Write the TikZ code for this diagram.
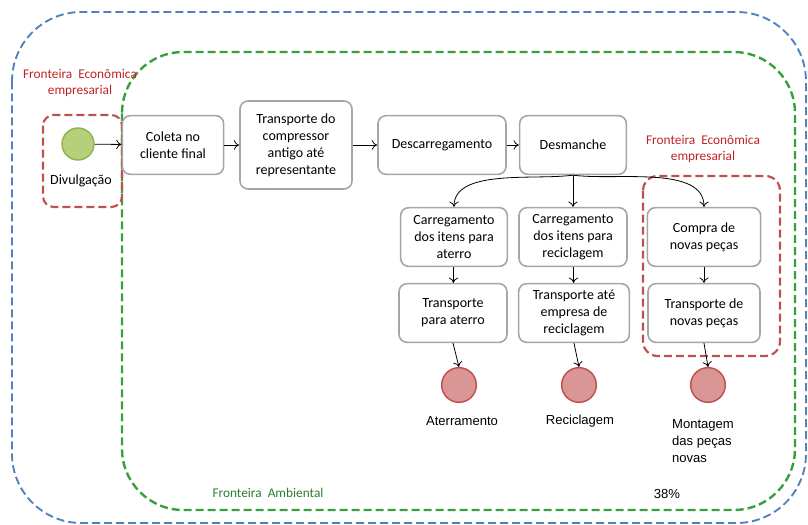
\documentclass[tikz,border=0pt]{standalone}
\usepackage{fontspec}
\setmainfont{Carlito}
\newfontfamily\arialfont{Liberation Sans}
\usepackage{xcolor}
\usepackage{tikz}
\usetikzlibrary{arrows.meta}

\definecolor{azulfr}{RGB}{79,129,189}
\definecolor{verdefr}{RGB}{55,160,60}
\definecolor{vermfr}{RGB}{192,80,77}
\definecolor{vermtx}{RGB}{190,35,35}
\definecolor{verdetx}{RGB}{45,125,45}
\definecolor{verdeini}{RGB}{181,207,122}
\definecolor{verdeinib}{RGB}{145,180,80}
\definecolor{vermfim}{RGB}{217,150,148}
\definecolor{vermfimb}{RGB}{192,80,77}

\begin{document}
\begin{tikzpicture}[x=0.75pt, y=-0.75pt, >={To[length=4pt, width=7pt]},
        caixa/.style={rectangle, rounded corners=6pt, draw=gray!70, line width=1.2pt,
            fill=white, align=center, minimum height=44pt, inner sep=2pt,
            font=\fontsize{10.5}{12.8}\selectfont},
        inicio/.style={circle, draw=verdeinib, line width=1.1pt, fill=verdeini,
            minimum size=24pt, inner sep=0pt},
        fim/.style={circle, draw=vermfimb, line width=1.1pt, fill=vermfim,
            minimum size=26pt, inner sep=0pt},
        rotulo/.style={font=\arialfont\fontsize{9.8}{12.5}\selectfont},
        fronteira/.style={dashed, dash pattern=on 6pt off 3pt},
        seta/.style={->, line width=0.6pt}]
        \useasboundingbox (0,0) rectangle (808,525);

        % fronteiras
        \draw[fronteira, azulfr, line width=1.4pt, rounded corners=52pt]
            (12,12) rectangle (806,523);
        \draw[fronteira, verdefr, line width=1.8pt, rounded corners=46pt]
            (122,52) rectangle (795,510);
        \draw[fronteira, vermfr, line width=1.6pt, rounded corners=8pt]
            (43,115) rectangle (122,207);
        \draw[fronteira, vermfr, line width=1.6pt, rounded corners=11pt]
            (643,176) rectangle (780,356);

        \node[text=vermtx, align=center, font=\fontsize{10}{12}\selectfont] (fe1) at (80,83)
            {Fronteira\ \ Econômica\\ empresarial};
        \node[text=vermtx, align=center, font=\fontsize{10}{12}\selectfont] (fe2) at (703,149)
            {Fronteira\ \ Econômica\\ empresarial};
        \node[text=verdetx, font=\fontsize{10}{12}\selectfont] (fa) at (268,493)
            {Fronteira\ \ Ambiental};

        % fluxo principal
        \node[inicio] (div) at (78,144) {};
        \node[font=\fontsize{10.5}{12}\selectfont] (divt) at (81,181) {Divulgação};
        \node[caixa, minimum width=76pt] (col) at (173,145) {Coleta no\\ cliente final};
        \node[caixa, minimum width=84pt, minimum height=66pt] (tra) at (296,145)
            {Transporte do\\ compressor\\ antigo até\\ representante};
        \node[caixa, minimum width=96pt] (des) at (442,145) {Descarregamento};
        \node[caixa, minimum width=80pt] (dsm) at (573,145) {Desmanche};

        % segunda linha
        \node[caixa, minimum width=80pt] (cat) at (454,237)
            {Carregamento\\ dos itens para\\ aterro};
        \node[caixa, minimum width=81pt] (car) at (573,237)
            {Carregamento\\ dos itens para\\ reciclagem};
        \node[caixa, minimum width=85pt] (cmp) at (704,237) {Compra de\\ novas peças};

        % terceira linha
        \node[caixa, minimum width=81pt] (tat) at (453,313) {Transporte\\ para aterro};
        \node[caixa, minimum width=83pt] (tre) at (574,313)
            {Transporte até\\ empresa de\\ reciclagem};
        \node[caixa, minimum width=84pt] (tnp) at (704,313) {Transporte de\\ novas peças};

        % finais
        \node[fim] (ate) at (459,385) {};
        \node[fim] (rec) at (579,385) {};
        \node[fim] (mon) at (708,385) {};
        \node[rotulo] (atet) at (462,421) {Aterramento};
        \node[rotulo] (rect) at (580,421) {Reciclagem};
        \node[rotulo, align=left] (mont) at (703,441) {Montagem\\ das peças\\ novas};
        \node[rotulo] (pct) at (667,494) {38\%};

        \draw[seta] (div) -- (col);
        \draw[seta] (col) -- (tra);
        \draw[seta] (tra) -- (des);
        \draw[seta] (des) -- (dsm);
        \draw[seta] (dsm.south) to[out=188, in=90, looseness=0.8] (cat.north);
        \draw[seta] (dsm.south) -- (car.north);
        \draw[seta] (dsm.south) to[out=-8, in=90, looseness=0.8] (cmp.north);
        \draw[seta] (cat) -- (tat);
        \draw[seta] (car) -- (tre);
        \draw[seta] (cmp) -- (tnp);
        \draw[seta] (tat.south) -- (ate.north);
        \draw[seta] (tre.south) -- (rec.north);
        \draw[seta] (tnp.south) -- (mon.north);
    \end{tikzpicture}
\end{document}
